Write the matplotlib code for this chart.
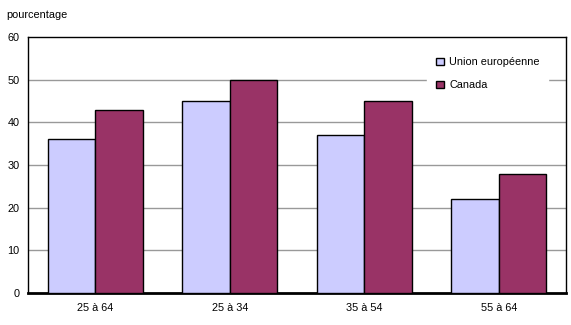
import matplotlib
matplotlib.use("Agg")
import matplotlib.pyplot as plt
import numpy as np

categories = ["25 à 64", "25 à 34", "35 à 54", "55 à 64"]
eu_values = [36, 45, 37, 22]
canada_values = [43, 50, 45, 28]
series_names = ["Union européenne", "Canada"]
yticks = [0, 10, 20, 30, 40, 50, 60]

plt.rcParams['font.family'] = ['Liberation Sans', 'DejaVu Sans']
plt.rcParams['font.size'] = 7.8

fig = plt.figure(figsize=(5.71, 3.25), dpi=100)
ax = fig.add_axes([28/571, 1-293/325, (566-28)/571, (293-37)/325])

x = np.arange(len(categories))
w = 0.355
ax.bar(x - w/2, eu_values, w, color="#ccccff", edgecolor="black", linewidth=1.0, label=series_names[0], zorder=3)
ax.bar(x + w/2, canada_values, w, color="#993366", edgecolor="black", linewidth=1.0, label=series_names[1], zorder=3)

ax.set_xlim(-0.5, 3.5)
ax.set_ylim(0, 60)
ax.set_yticks(yticks)
ax.set_xticks(x)
ax.set_xticklabels(categories)
ax.tick_params(axis='both', length=0, pad=6)
ax.tick_params(axis='x', pad=7)
for yv in yticks[1:-1]:
    ax.axhline(yv, color="#999999", linewidth=1.0, zorder=1)
for s in ['top', 'right', 'left']:
    ax.spines[s].set_linewidth(1.0)
ax.spines['bottom'].set_linewidth(2.0)

leg = ax.legend(loc='upper right', bbox_to_anchor=(0.977, 0.975), frameon=True, fancybox=False,
                edgecolor='white', framealpha=1.0, handlelength=0.7, handleheight=0.7,
                labelspacing=1.2, handletextpad=0.5, borderpad=0.8)
leg.set_zorder(5)

fig.text(6/571, 1-15/325, "pourcentage", ha='left', va='center')

fig.savefig("out.png", dpi=100)
